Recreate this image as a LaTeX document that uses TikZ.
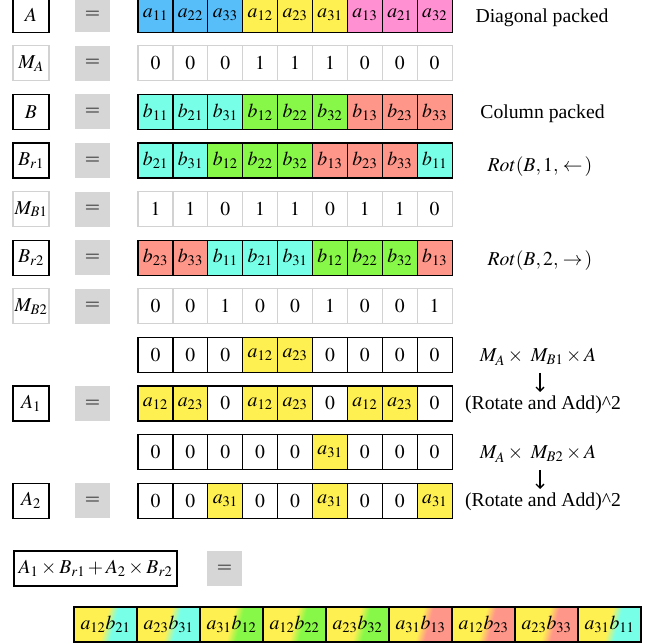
\documentclass[tikz,border=0pt]{standalone}
\usepackage{mathptmx}
\usepackage[no-math]{fontspec}
\setmainfont{Liberation Serif}
\usetikzlibrary{arrows.meta}
\definecolor{myblue}{RGB}{87,190,250}
\definecolor{myyel}{RGB}{255,240,82}
\definecolor{mypink}{RGB}{255,145,210}
\definecolor{mycyan}{RGB}{120,255,232}
\definecolor{mygreen}{RGB}{136,248,72}
\definecolor{mysalmon}{RGB}{255,150,138}
\definecolor{eqgray}{RGB}{214,214,214}
\definecolor{maskgray}{RGB}{210,210,210}
\pgfdeclarehorizontalshading{ycyan}{100bp}{color(0bp)=(myyel); color(49bp)=(myyel); color(57bp)=(mycyan); color(100bp)=(mycyan)}
\pgfdeclarehorizontalshading{ygreen}{100bp}{color(0bp)=(myyel); color(49bp)=(myyel); color(57bp)=(mygreen); color(100bp)=(mygreen)}
\pgfdeclarehorizontalshading{ysalmon}{100bp}{color(0bp)=(myyel); color(49bp)=(myyel); color(57bp)=(mysalmon); color(100bp)=(mysalmon)}
\tikzset{
  cellbase/.style={minimum width=34.9pt, minimum height=35pt, inner sep=0pt, outer sep=0pt, line width=1.2pt, draw=black},
  celB/.style={cellbase, fill=myblue},
  celY/.style={cellbase, fill=myyel},
  celP/.style={cellbase, fill=mypink},
  celC/.style={cellbase, fill=mycyan},
  celG/.style={cellbase, fill=mygreen},
  celS/.style={cellbase, fill=mysalmon},
  celW/.style={cellbase, fill=white},
  celM/.style={cellbase, draw=maskgray, fill=white},
  fincell/.style={minimum width=63pt, minimum height=35pt, inner sep=0pt, outer sep=0pt, line width=1.2pt, draw=black, shade, shading angle=-15},
  finC/.style={fincell, shading=ycyan},
  finG/.style={fincell, shading=ygreen},
  finS/.style={fincell, shading=ysalmon},
  labbox/.style={minimum width=36pt, minimum height=35pt, inner sep=0pt, line width=1.2pt, draw=black, fill=white},
  mlabbox/.style={labbox, draw=maskgray},
  eqbox/.style={minimum width=35pt, minimum height=35pt, inner sep=0pt, fill=eqgray},
  notetext/.style={anchor=base, inner sep=0pt},
  dnarrow/.style={line width=1.3pt, -{Straight Barb[length=4pt,width=8pt]}},
}
\newcommand\cellrow[3]{%
  \foreach \st/\tx [count=\i] in {#3} {
    \node[\st] (#1-\i) at ({138+34.9*(\i-0.5)}, #2) {\tx};
  }}
\begin{document}
\begin{tikzpicture}[x=1pt,y=-1pt,font=\fontsize{19.7}{23.6}\selectfont]
\useasboundingbox (0,0) rectangle (646,644);
% row A
\node[labbox] (lA) at (31,14.7) {$A$};
\node[eqbox] (eA) at (92.5,14.7) {$=$};
\cellrow{A}{14.7}{celB/$a_{11}$,celB/$a_{22}$,celB/$a_{33}$,celY/$a_{12}$,celY/$a_{23}$,celY/$a_{31}$,celP/$a_{13}$,celP/$a_{21}$,celP/$a_{32}$}
\node[notetext] (tA) at (542,23) {Diagonal packed};
% row MA
\node[mlabbox] (lMA) at (31,63.3) {$M_A$};
\node[eqbox] (eMA) at (92.5,63.3) {$=$};
\cellrow{MA}{63.3}{celM/$0$,celM/$0$,celM/$0$,celM/$1$,celM/$1$,celM/$1$,celM/$0$,celM/$0$,celM/$0$}
% row B
\node[labbox] (lB) at (31,111.9) {$B$};
\node[eqbox] (eB) at (92.5,111.9) {$=$};
\cellrow{B}{111.9}{celC/$b_{11}$,celC/$b_{21}$,celC/$b_{31}$,celG/$b_{12}$,celG/$b_{22}$,celG/$b_{32}$,celS/$b_{13}$,celS/$b_{23}$,celS/$b_{33}$}
\node[notetext] (tB) at (542.5,119) {Column packed};
% row Br1
\node[labbox] (lBr1) at (31,160.5) {$B_{r1}$};
\node[eqbox] (eBr1) at (92.5,160.5) {$=$};
\cellrow{Br1}{160.5}{celC/$b_{21}$,celC/$b_{31}$,celG/$b_{12}$,celG/$b_{22}$,celG/$b_{32}$,celS/$b_{13}$,celS/$b_{23}$,celS/$b_{33}$,celC/$b_{11}$}
\node[notetext] (tR1) at (540,172) {$Rot(B,1,\,\leftarrow\,)$};
% row MB1
\node[mlabbox] (lMB1) at (31,209.1) {$M_{B1}$};
\node[eqbox] (eMB1) at (92.5,209.1) {$=$};
\cellrow{MB1}{209.1}{celM/$1$,celM/$1$,celM/$0$,celM/$1$,celM/$1$,celM/$0$,celM/$1$,celM/$1$,celM/$0$}
% row Br2
\node[labbox] (lBr2) at (31,257.7) {$B_{r2}$};
\node[eqbox] (eBr2) at (92.5,257.7) {$=$};
\cellrow{Br2}{257.7}{celS/$b_{23}$,celS/$b_{33}$,celC/$b_{11}$,celC/$b_{21}$,celC/$b_{31}$,celG/$b_{12}$,celG/$b_{22}$,celG/$b_{32}$,celS/$b_{13}$}
\node[notetext] (tR2) at (540,266) {$Rot(B,2,\,\rightarrow\,)$};
% row MB2
\node[mlabbox] (lMB2) at (31,306.3) {$M_{B2}$};
\node[eqbox] (eMB2) at (92.5,306.3) {$=$};
\cellrow{MB2}{306.3}{celM/$0$,celM/$0$,celM/$1$,celM/$0$,celM/$0$,celM/$1$,celM/$0$,celM/$0$,celM/$1$}
% row P1
\cellrow{P1}{354.9}{celW/$0$,celW/$0$,celW/$0$,celY/$a_{12}$,celY/$a_{23}$,celW/$0$,celW/$0$,celW/$0$,celW/$0$}
\node[notetext] (tP1) at (538,362) {$M_A\times\ M_{B1}\times A$};
% row A1
\node[labbox] (lA1) at (31,403.5) {$A_1$};
\node[eqbox] (eA1) at (92.5,403.5) {$=$};
\cellrow{A1}{403.5}{celY/$a_{12}$,celY/$a_{23}$,celW/$0$,celY/$a_{12}$,celY/$a_{23}$,celW/$0$,celY/$a_{12}$,celY/$a_{23}$,celW/$0$}
\node[notetext] (tS1) at (543,410) {(Rotate and Add)\textasciicircum 2};
\coordinate (ar1s) at (540,373);
\coordinate (ar1e) at (540,392);
\draw[dnarrow] (ar1s) -- (ar1e);
% row P2
\cellrow{P2}{452.1}{celW/$0$,celW/$0$,celW/$0$,celW/$0$,celW/$0$,celY/$a_{31}$,celW/$0$,celW/$0$,celW/$0$}
\node[notetext] (tP2) at (538,459) {$M_A\times\ M_{B2}\times A$};
% row A2
\node[labbox] (lA2) at (31,500.7) {$A_2$};
\node[eqbox] (eA2) at (92.5,500.7) {$=$};
\cellrow{A2}{500.7}{celW/$0$,celW/$0$,celY/$a_{31}$,celW/$0$,celW/$0$,celY/$a_{31}$,celW/$0$,celW/$0$,celY/$a_{31}$}
\node[notetext] (tS2) at (543,507) {(Rotate and Add)\textasciicircum 2};
\coordinate (ar2s) at (540,470);
\coordinate (ar2e) at (540,489);
\draw[dnarrow] (ar2s) -- (ar2e);
% formula
\node[labbox, minimum width=163pt] (lF) at (95.5,568.5) {$A_1\times B_{r1}+A_2\times B_{r2}$};
\node[eqbox] (eF) at (224.5,568.5) {$=$};
% final row
\foreach \st/\tx [count=\i] in {finC/$a_{12}b_{21}$,finC/$a_{23}b_{31}$,finG/$a_{31}b_{12}$,finG/$a_{12}b_{22}$,finG/$a_{23}b_{32}$,finS/$a_{31}b_{13}$,finS/$a_{12}b_{23}$,finS/$a_{23}b_{33}$,finC/$a_{31}b_{11}$} {
  \node[\st] (F-\i) at ({74+63*(\i-0.5)}, 624.5) {\tx};
}
\end{tikzpicture}
\end{document}
